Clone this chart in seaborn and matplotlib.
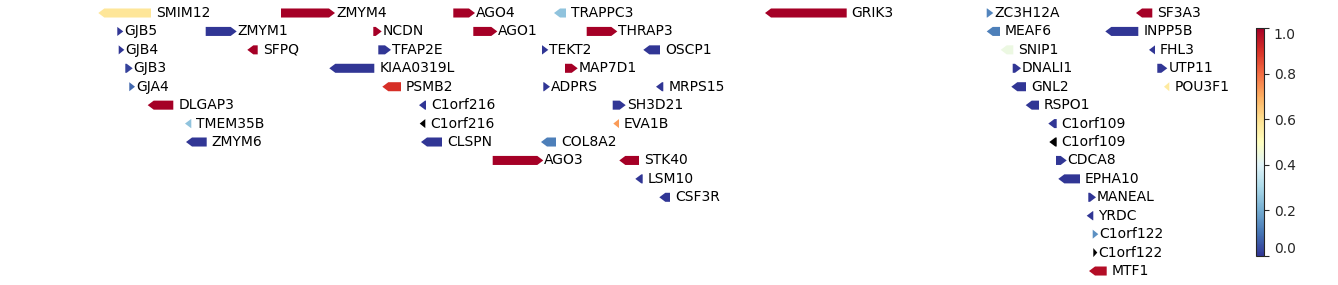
import numpy as np
import matplotlib
matplotlib.use("Agg")
import matplotlib.pyplot as plt
from matplotlib.patches import Polygon
from matplotlib.colors import Normalize
from matplotlib.cm import ScalarMappable
import seaborn as sns

# ---------------- data ----------------
gene_names = ["SMIM12", "GJB5", "ZMYM1", "GJB4", "SFPQ", "GJB3", "GJA4", "DLGAP3",
              "TMEM35B", "ZMYM6", "ZMYM4", "AGO4", "NCDN", "AGO1", "TFAP2E",
              "KIAA0319L", "PSMB2", "C1orf216", "C1orf216", "CLSPN", "TRAPPC3",
              "THRAP3", "TEKT2", "OSCP1", "MAP7D1", "ADPRS", "MRPS15", "SH3D21",
              "EVA1B", "COL8A2", "AGO3", "STK40", "LSM10", "CSF3R", "GRIK3",
              "ZC3H12A", "SF3A3", "MEAF6", "INPP5B", "SNIP1", "FHL3", "DNALI1",
              "UTP11", "GNL2", "POU3F1", "RSPO1", "C1orf109", "C1orf109", "CDCA8",
              "EPHA10", "MANEAL", "YRDC", "C1orf122", "C1orf122", "MTF1"]
gene_starts = [98.3, 117.3, 205.7, 118.7, 247.3, 125.3, 129.3, 147.7,
               185.0, 186.0, 281.0, 453.3, 373.3, 473.3, 378.3,
               329.3, 382.3, 419.0, 419.7, 421.0, 554.0,
               586.7, 542.0, 643.3, 565.0, 543.3, 656.0, 612.7,
               613.3, 541.0, 492.7, 619.3, 635.3, 659.3, 765.0,
               986.7, 1136.0, 986.7, 1105.3, 1000.7, 1149.0, 1012.7,
               1157.3, 1011.3, 1164.0, 1025.7, 1048.3, 1049.3, 1056.0,
               1058.3, 1088.3, 1086.7, 1092.7, 1093.3, 1089.0]
gene_ends = [151.0, 123.3, 236.7, 124.3, 257.7, 132.7, 135.0, 173.3,
             191.3, 206.7, 335.0, 475.0, 381.7, 497.3, 391.0,
             374.3, 401.0, 426.0, 425.3, 442.0, 566.0,
             617.3, 548.3, 660.0, 577.7, 550.0, 663.3, 625.7,
             619.0, 556.0, 543.3, 639.0, 642.7, 670.0, 846.7,
             993.3, 1152.3, 1000.0, 1138.3, 1013.3, 1155.0, 1021.0,
             1167.3, 1026.0, 1169.3, 1039.0, 1056.7, 1056.7, 1066.7,
             1080.0, 1096.0, 1093.3, 1098.3, 1097.3, 1106.7]
gene_strands = [-1, 1, 1, 1, -1, 1, 1, -1,
                -1, -1, 1, 1, 1, 1, 1,
                -1, -1, -1, -1, -1, -1,
                1, 1, -1, 1, 1, -1, 1,
                -1, -1, 1, -1, -1, -1, -1,
                1, -1, -1, -1, -1, -1, 1,
                1, -1, -1, -1, -1, -1, 1,
                -1, 1, -1, 1, 1, -1]
gene_tracks = [0, 1, 1, 2, 2, 3, 4, 5,
               6, 7, 0, 0, 1, 1, 2,
               3, 4, 5, 6, 7, 0,
               1, 2, 2, 3, 4, 4, 5,
               6, 7, 8, 8, 9, 10, 0,
               0, 0, 1, 1, 2, 2, 3,
               3, 4, 4, 5, 6, 7, 8,
               9, 10, 11, 12, 13, 14]
nan = np.nan
gene_scores = [0.58, 0.0, 0.0, 0.0, 1.0, 0.02, 0.08, 1.0,
               0.25, 0.0, 1.0, 1.0, 1.0, 1.0, 0.0,
               0.0, 0.9, 0.0, nan, 0.0, 0.25,
               1.0, 0.0, 0.0, 1.0, 0.0, 0.0, 0.0,
               0.73, 0.12, 1.0, 1.0, 0.0, 0.0, 1.0,
               0.13, 1.0, 0.12, 0.0, 0.44, 0.0, 0.0,
               0.0, 0.0, 0.57, 0.0, 0.0, nan, 0.0,
               0.0, 0.0, 0.0, 0.15, nan, 0.97]
cbar_ticks = [0.0, 0.2, 0.4, 0.6, 0.8, 1.0]

# ---------------- style ----------------
sns.set_style("white")
plt.rcParams["font.family"] = ["DejaVu Sans"]

cmap = sns.color_palette("RdYlBu_r", as_cmap=True).copy()
cmap.set_bad("black")
norm = Normalize(vmin=0.0, vmax=1.0)

W, H = 1338, 285
fig = plt.figure(figsize=(W / 100, H / 100), dpi=100)
ax = fig.add_axes([0, 0, 1, 1])
ax.set_xlim(0, W)
row_step = 18.43
ax.set_ylim((H - 13) / row_step, -13 / row_step)
ax.axis("off")

HEAD = 6.0
HALF = 0.245

df_scores = np.array(gene_scores, dtype=float)
for name, s, e, strand, trk, sc in zip(gene_names, gene_starts, gene_ends,
                                       gene_strands, gene_tracks, df_scores):
    length = e - s
    head = min(HEAD, length)
    y = trk
    if strand > 0:
        verts = [(s, y - HALF), (e - head, y - HALF), (e, y),
                 (e - head, y + HALF), (s, y + HALF)]
        gap = 1.0
    else:
        verts = [(e, y - HALF), (s + head, y - HALF), (s, y),
                 (s + head, y + HALF), (e, y + HALF)]
        gap = 5.0
    color = cmap(norm(sc)) if not np.isnan(sc) else "black"
    ax.add_patch(Polygon(verts, closed=True, facecolor=color,
                         edgecolor="none", linewidth=0))
    ax.text(e + gap, y, name, ha="left", va="center", fontsize=10,
            color="black")

# ---------------- colorbar ----------------
cax = fig.add_axes([1255.5 / W, (H - 256) / H, 8.5 / W, 228 / H])
sm = ScalarMappable(norm=norm, cmap=cmap)
cb = fig.colorbar(sm, cax=cax, ticks=cbar_ticks)
cb.ax.tick_params(labelsize=10, length=3.5, width=0.8)
cb.outline.set_linewidth(0.8)
labels = cb.ax.get_yticklabels()
labels[0].set_va("bottom")
labels[-1].set_va("top")

fig.savefig("out.png", dpi=100)
